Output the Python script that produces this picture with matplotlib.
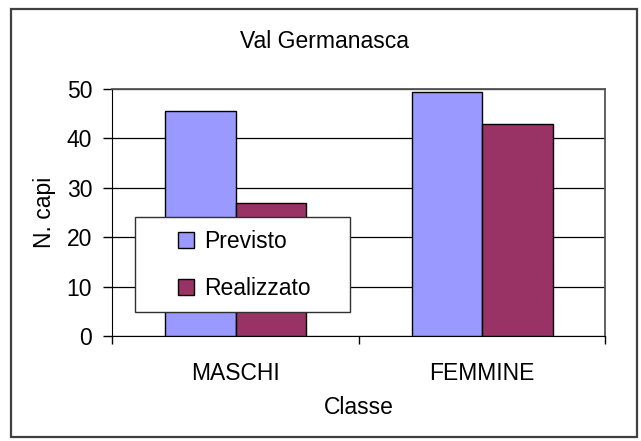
import numpy as np
import matplotlib
matplotlib.use("Agg")
import matplotlib.pyplot as plt
from matplotlib.patches import Rectangle

# Data
categories = ["MASCHI", "FEMMINE"]
previsto = [45.5, 49.4]
realizzato = [27.0, 43.0]
series_labels = ["Previsto", "Realizzato"]

plt.rcParams['font.family'] = ['Liberation Sans', 'DejaVu Sans']
FS = 16.5

W, H = 641, 441
fig = plt.figure(figsize=(W/100, H/100), dpi=100)
fig.patch.set_facecolor('white')

# outer chart border
fig.add_artist(Rectangle((11/W, 1-437/H), 626/W, 428/H, transform=fig.transFigure,
                         fill=False, edgecolor='#404040', lw=1.6))

ax = fig.add_axes([112.3/W, 1-336/H, 493/W, 247/H])

x = np.arange(len(categories))
bw = 0.286
ax.bar(x - bw/2, previsto, bw, color='#9999FF', edgecolor='black', lw=1.0,
       label=series_labels[0], zorder=3)
ax.bar(x + bw/2, realizzato, bw, color='#993366', edgecolor='black', lw=1.0,
       label=series_labels[1], zorder=3)

ax.set_xlim(-0.5, len(categories) - 0.5)
ax.set_ylim(0, 50)
ax.set_yticks([0, 10, 20, 30, 40, 50])
ax.yaxis.grid(True, color='black', lw=0.9)
ax.set_axisbelow(True)

ax.set_xticks(x)
ax.set_xticklabels(categories)
ax.set_xticks(np.arange(-0.5, len(categories)), minor=True)
ax.tick_params(axis='x', which='major', length=0, pad=19, labelsize=FS)
ax.tick_params(axis='x', which='minor', length=6, width=1, color='black')
ax.tick_params(axis='y', length=6.5, width=1, pad=8, labelsize=FS)

for s in ['top', 'right']:
    ax.spines[s].set_color('#555555')
    ax.spines[s].set_linewidth(1.3)
ax.spines['left'].set_color('black')
ax.spines['bottom'].set_color('black')

ax.set_xlabel('Classe', fontsize=FS, labelpad=8)
ax.set_ylabel('N. capi', fontsize=FS, labelpad=8)

fig.text(324/W, 1-41/H, 'Val Germanasca', ha='center', va='center', fontsize=FS)

# legend box
ax.add_artist(Rectangle((135/W, 1-312/H), 215/W, 95/H, transform=fig.transFigure,
                        facecolor='white', edgecolor='#303030', lw=1.0, zorder=6))
leg = ax.legend(loc='center', bbox_to_anchor=(244/W, 1-265/H),
                bbox_transform=fig.transFigure, frameon=False, fontsize=FS,
                handlelength=0.7, handleheight=0.7, handletextpad=0.45,
                labelspacing=1.05)
leg.set_zorder(7)

fig.savefig('out.png', dpi=100)
